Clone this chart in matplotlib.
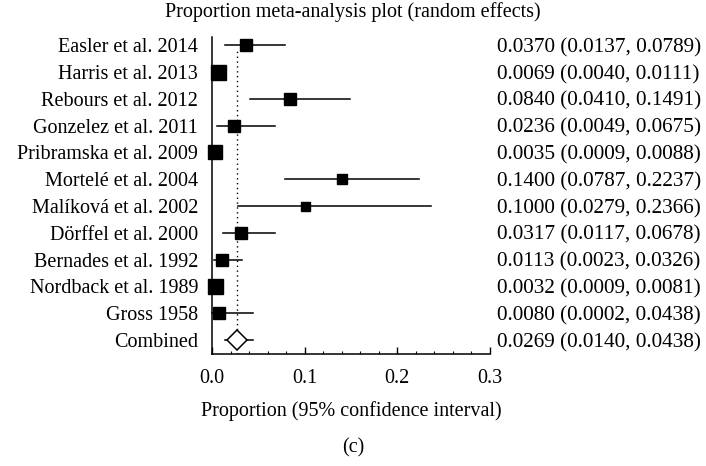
import numpy as np
import matplotlib.pyplot as plt
from matplotlib.ticker import MultipleLocator
from matplotlib.transforms import blended_transform_factory

# ---- data ----
studies = [
    "Easler et al. 2014", "Harris et al. 2013", "Rebours et al. 2012",
    "Gonzelez et al. 2011", "Pribramska et al. 2009", "Mortelé et al. 2004",
    "Malíková et al. 2002", "Dörffel et al. 2000", "Bernades et al. 1992",
    "Nordback et al. 1989", "Gross 1958",
]
prop = [0.0370, 0.0069, 0.0840, 0.0236, 0.0035, 0.1400, 0.1000, 0.0317, 0.0113, 0.0032, 0.0080]
lower = [0.0137, 0.0040, 0.0410, 0.0049, 0.0009, 0.0787, 0.0279, 0.0117, 0.0023, 0.0009, 0.0002]
upper = [0.0789, 0.0111, 0.1491, 0.0675, 0.0088, 0.2237, 0.2366, 0.0678, 0.0326, 0.0081, 0.0438]
# relative study weights shown as box side (px)
box_px = [12.7, 15.0, 12.0, 12.3, 13.7, 10.7, 9.0, 12.0, 12.7, 15.0, 12.7]

combined_label = "Combined"
combined = (0.0269, 0.0140, 0.0438)


def main():
    plt.rcParams["font.family"] = ["Liberation Serif", "DejaVu Serif"]
    fs = 14.5

    fig = plt.figure(figsize=(7.06, 4.66), dpi=100)
    ax = fig.add_axes([212 / 706, 1 - 354 / 466, 278 / 706, 317 / 466])

    n = len(studies)
    ys = np.arange(n, 0, -1)  # top row = n, combined row = 0

    for y, p, lo, hi, s in zip(ys, prop, lower, upper, box_px):
        ax.plot([lo, hi], [y, y], color="black", lw=1.1, clip_on=False, zorder=2)
        ax.plot(p, y, marker="s", ms=s * 0.72, color="black", mec="black",
                ls="none", clip_on=False, zorder=3)

    est, lo, hi = combined
    ax.plot([lo, hi], [0, 0], color="black", lw=1.1, zorder=2)
    ax.plot(est, 0, marker="D", ms=14 * 0.72, mfc="white", mec="black",
            mew=1.1, ls="none", zorder=3)
    ax.vlines(est, -0.52, n - 0.2, colors="black", linestyles=(0, (1, 2.5)), lw=1, zorder=1)

    ax.set_xlim(0, 0.3)
    ax.set_ylim(-0.52, n + 0.3)

    ax.set_yticks(list(ys) + [0])
    ax.set_yticklabels(studies + [combined_label], fontsize=fs, va="center_baseline")
    ax.tick_params(axis="y", length=0, pad=10)

    ax.xaxis.set_major_locator(MultipleLocator(0.1))
    ax.xaxis.set_minor_locator(MultipleLocator(0.02))
    ax.set_xticklabels([f"{v:.1f}" for v in ax.get_xticks()], fontsize=fs)
    ax.tick_params(axis="x", which="major", direction="in", length=5, width=1, pad=11)
    ax.tick_params(axis="x", which="minor", direction="in", length=2.2, width=0.8)

    for side in ("top", "right"):
        ax.spines[side].set_visible(False)
    for side in ("left", "bottom"):
        ax.spines[side].set_linewidth(1.1)

    ax.set_xlabel("Proportion (95% confidence interval)", fontsize=fs, labelpad=9)

    # right-hand column of estimates
    trans = blended_transform_factory(ax.transAxes, ax.transData)
    for y, p, l, h in zip(ys, prop, lower, upper):
        ax.text(1.025, y, f"{p:.4f} ({l:.4f}, {h:.4f})", transform=trans,
                va="center_baseline", ha="left", fontsize=15.3)
    ax.text(1.025, 0, f"{est:.4f} ({lo:.4f}, {hi:.4f})", transform=trans,
            va="center_baseline", ha="left", fontsize=15.3)

    fig.text(0.5, 1 - 12 / 466, "Proportion meta-analysis plot (random effects)",
             ha="center", va="center", fontsize=fs)
    fig.text(0.5, 1 - 448 / 466, "(c)", ha="center", va="center", fontsize=fs)

    fig.savefig("out.png", dpi=100)


if __name__ == "__main__":
    main()
